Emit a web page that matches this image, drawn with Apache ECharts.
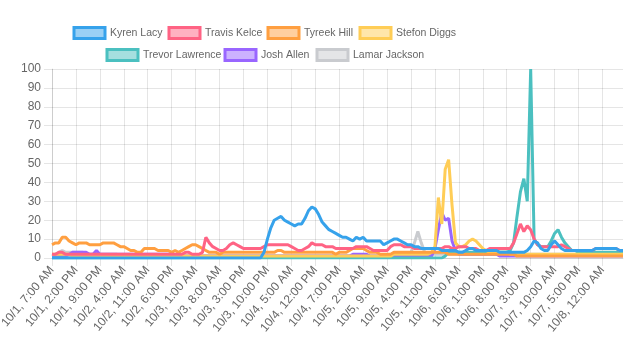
<!DOCTYPE html>
<html><head><meta charset="utf-8">
<script src="https://cdn.jsdelivr.net/npm/echarts@6/dist/echarts.min.js"></script>
<style>html,body{margin:0;padding:0;background:#fff}#c{width:640px;height:360px}</style>
</head><body><div id="c"></div>
<script>
// hourly categories 10/1 7:00 AM ... 10/8 6:00 AM (168 hours)
const categories = [];
for (let h = 0; h < 168; h++) {
  const t = 7 + h, day = 1 + Math.floor(t / 24), hr = t % 24;
  categories.push('10/' + day + ', ' + ((hr % 12) || 12) + ':00 ' + (hr < 12 ? 'AM' : 'PM'));
}
const seriesNames = ['Kyren Lacy','Travis Kelce','Tyreek Hill','Stefon Diggs','Trevor Lawrence','Josh Allen','Lamar Jackson'];
const yTicks = [0,10,20,30,40,50,60,70,80,90,100];

const kyrenLacy = [
0,0,0,0,0,0,0,0,0,0, 0,0,0,0,0,0,0,0,0,0, 0,0,0,0,0,0,0,0,0,0, 0,0,0,0,0,0,0,0,0,0,
0,0,0,0,0,0,0,0,0,0, 0,0,0,0,0,0,0,0,0,0, 0,0,3,10,16,20,21,22,20,19,
18,17,18,18,21,25,27,26,23,19, 17,15,14,13,12,11,11,10,9,11, 10,11,9,9,9,9,9,7,8,9,
10,10,9,8,7,7,6,6,5,5, 5,5,5,5,4,4,4,4,4,3, 3,4,5,5,4,4,4,4,4,4,
4,3,3,3,3,3,3,3,3,4, 6,9,8,5,4,4,7,9,7,5, 4,4,4,4,4,4,4,4,4,5, 5,5,5,5,5,5,4,4];
const travisKelce = [
2,2,3,3,2,2,2,2,2,2, 2,2,2,2,2,2,2,2,2,2, 2,2,2,2,2,2,2,2,2,2, 2,2,2,2,2,2,2,2,2,3,
3,2,2,2,3,11,8,6,5,4, 4,5,7,8,7,6,5,5,5,5, 5,5,6,7,7,7,7,7,7,7,
6,5,4,4,5,6,8,7,7,7, 6,6,6,5,5,5,5,5,5,6, 6,6,6,5,4,4,4,4,4,6,
7,7,7,6,6,6,5,5,5,5, 5,5,5,5,5,6,6,5,5,6, 6,6,5,5,5,4,4,4,5,5,
5,5,5,5,5,8,13,18,14,17, 15,10,7,6,6,6,6,6,6,7, 6,5,4,4,4,4,4,4,4,5, 5,5,5,5,5,5,4,4];
const tyreekHill = [
7,8,8,11,11,9,8,7,8,8, 8,7,7,7,7,8,8,8,8,7, 6,6,5,4,4,3,3,5,5,5, 5,4,4,4,4,3,4,3,4,5,
6,7,7,6,5,4,3,3,3,2, 3,3,3,3,3,3,3,3,3,3, 3,3,3,3,3,3,4,4,3,3,
3,3,3,3,3,3,3,3,3,3, 3,3,3,2,3,3,3,4,5,5, 5,5,4,3,3,3,2,2,2,2,
3,3,3,3,3,3,3,3,3,3, 3,3,3,3,3,3,2,2,2,2, 2,2,2,2,2,2,2,2,2,2,
2,2,2,2,2,2,1,1,1,1, 1,1,1,1,1,1,1,1,1,1, 1,1,1,1,1,1,1,1,1,1, 1,1,1,1,1,1,1,1];
const stefonDiggs = [
2,2,2,2,2,2,1,1,1,1, 1,1,1,1,1,1,1,1,1,1, 1,1,1,1,1,1,1,1,1,1, 1,1,1,1,1,1,1,1,1,1,
1,1,1,1,1,1,1,1,1,1, 1,1,1,1,1,1,1,1,1,1, 1,1,1,1,1,1,1,1,1,1,
1,1,1,1,1,1,1,1,1,1, 1,1,1,1,1,1,1,1,1,1, 1,1,1,1,1,1,1,1,1,1,
2,2,2,2,2,2,2,2,2,2, 2,3,6,32,18,47,52,28,8,6, 6,7,9,10,9,7,5,4,3,3,
3,3,3,3,2,2,2,2,2,2, 2,2,2,2,2,2,2,2,2,2, 2,2,2,2,2,2,2,2,2,2, 2,2,2,2,2,2,2,2];
const trevorLawrence = [
0,0,0,0,0,0,0,0,0,0, 0,0,0,0,0,0,0,0,0,0, 0,0,0,0,0,0,0,0,0,0, 0,0,0,0,0,0,0,0,0,0,
0,0,0,0,0,0,0,0,0,0, 0,0,0,0,0,0,0,0,0,0, 0,0,0,0,0,0,0,0,0,0,
0,0,0,0,0,0,0,0,0,0, 0,0,0,0,0,0,0,0,0,0, 0,0,0,0,0,0,0,0,0,0,
0,0,0,0,0,0,0,0,0,0, 0,0,0,0,0,1,3,3,3,3, 3,3,3,3,3,3,3,3,3,3,
3,3,3,3,4,8,22,35,42,30, 100,10,7,6,6,6,9,13,15,11, 8,6,4,4,3,3,3,3,3,3, 3,3,3,3,3,3,3,3];
const joshAllen = [
1,1,1,1,1,2,3,3,3,3, 3,2,2,4,2,2,2,2,2,2, 2,2,2,2,2,2,2,2,2,2, 2,2,2,2,2,2,1,1,1,1,
1,1,1,1,1,1,1,1,1,1, 1,1,1,1,1,1,1,1,1,1, 1,1,1,1,1,1,1,1,1,1,
1,1,1,1,1,1,1,1,1,1, 1,1,1,1,1,1,1,1,2,2, 2,2,2,1,1,1,1,1,1,1,
1,1,1,1,1,1,1,1,1,1, 1,1,5,15,24,20,21,9,4,2, 2,2,2,2,2,2,2,2,2,2,
2,1,1,1,1,1,1,1,1,1, 1,1,1,1,1,1,1,1,1,1, 1,1,1,1,1,1,1,1,1,1, 1,1,1,1,1,1,1,1];
const lamarJackson = [
1,2,3,4,3,3,3,3,3,3, 2,2,2,2,2,2,2,2,2,2, 1,1,1,1,1,1,1,1,1,1, 1,1,1,1,1,1,1,1,1,1,
1,1,1,1,1,1,1,1,1,1, 1,1,1,1,1,1,1,1,1,1, 1,1,1,1,1,1,1,1,1,1,
1,1,1,1,1,1,1,1,1,1, 1,1,1,1,1,1,1,1,1,1, 1,1,1,1,1,1,1,1,1,1,
2,2,2,2,2,3,8,14,8,3, 2,2,2,2,2,2,2,2,2,2, 2,2,2,2,2,2,2,2,2,2,
2,2,2,2,2,2,2,2,2,2, 2,2,2,2,2,2,2,2,2,2, 2,2,2,2,2,2,2,2,2,2, 2,2,2,2,2,2,2,2];

const allData = [kyrenLacy, travisKelce, tyreekHill, stefonDiggs, trevorLawrence, joshAllen, lamarJackson];
const lineColors = ['rgb(54,162,235)','rgb(255,99,132)','rgb(255,159,64)','rgb(255,205,86)','rgb(75,192,192)','rgb(153,102,255)','rgb(201,203,207)'];
const fillColors = ['rgba(54,162,235,0.5)','rgba(255,99,132,0.5)','rgba(255,159,64,0.5)','rgba(255,205,86,0.5)','rgba(75,192,192,0.5)','rgba(153,102,255,0.5)','rgba(201,203,207,0.5)'];
const legendLeft = [72.5, 167.5, 266.5, 358.5, 105.5, 223.5, 315.5];
const legendTop = [26, 26, 26, 26, 48, 48, 48];

const FONT = '"Liberation Sans", Arial, Helvetica, sans-serif';
const chart = echarts.init(document.getElementById('c'), null, {renderer: 'canvas'});
const gridColor = 'rgba(0,0,0,0.1)';
const option = {
  animation: false,
  backgroundColor: '#fff',
  textStyle: {fontFamily: FONT},
  legend: seriesNames.map((n, k) => ({
    data: [{name: n, itemStyle: {color: fillColors[k], borderColor: lineColors[k], borderWidth: 3}}],
    left: legendLeft[k], top: legendTop[k], padding: 0, icon: 'rect',
    itemWidth: 31, itemHeight: 11, itemGap: 0,
    textStyle: {fontSize: 10.5, color: '#666', fontFamily: FONT}
  })),
  grid: {left: 52, right: 17, top: 69, bottom: 102, containLabel: false, outerBoundsMode: 'none'},
  xAxis: {
    type: 'category', data: categories, boundaryGap: false,
    axisLine: {lineStyle: {color: gridColor}},
    axisTick: {show: true, interval: 6, length: 8, lineStyle: {color: gridColor}},
    splitLine: {show: true, interval: 6, lineStyle: {color: gridColor}},
    axisLabel: {interval: 6, rotate: 50, margin: 10, color: '#666', fontSize: 12, fontFamily: FONT}
  },
  yAxis: {
    type: 'value', min: yTicks[0], max: yTicks[yTicks.length - 1], interval: 10,
    axisLine: {show: true, lineStyle: {color: gridColor}},
    axisTick: {show: true, length: 8, lineStyle: {color: gridColor}},
    splitLine: {lineStyle: {color: gridColor}},
    axisLabel: {margin: 11, color: '#666', fontSize: 12, fontFamily: FONT}
  },
  series: seriesNames.map((n, k) => ({
    name: n, type: 'line', data: allData[k], z: 10 - k,
    showSymbol: false, symbol: 'none',
    itemStyle: {color: lineColors[k]},
    lineStyle: {color: lineColors[k], width: 3}
  }))
};
chart.setOption(option);
</script></body></html>
